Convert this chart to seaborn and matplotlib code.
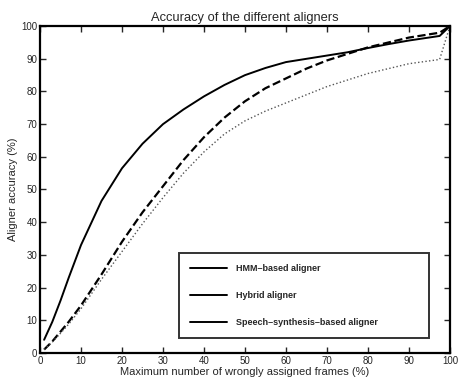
import pandas as pd
import numpy as np
import matplotlib.pyplot as plt
import seaborn as sns
from matplotlib.lines import Line2D

# ==========================================
# 1. Data
# ==========================================
frames = [1, 3, 5, 7, 10, 15, 20, 25, 30, 35, 40, 45, 50, 55, 60, 65, 70, 75, 80, 85, 90, 97.5, 100]
hmm_acc = [4, 9.5, 16, 23, 33, 46.5, 56.5, 64, 70, 74.5, 78.5, 82, 85, 87.2, 89, 90, 91, 92, 93.3, 94.5, 95.6, 97, 100]
hybrid_acc = [1, 3.5, 6.5, 9.5, 14.5, 24, 34, 43, 51, 59, 66, 72, 77, 81, 84, 87, 89.5, 91.5, 93.5, 95, 96.5, 98, 100]
synth_acc = [1, 3.3, 6, 8.8, 13.5, 22.5, 31, 39.5, 47.5, 55, 61.5, 67, 71, 74, 76.5, 79, 81.5, 83.5, 85.5, 87, 88.5, 89.8, 100]
labels = ['HMM\u2013based aligner', 'Hybrid aligner', 'Speech\u2013synthesis\u2013based aligner']

df = pd.DataFrame({
    'frames': frames * 3,
    'acc': hmm_acc + hybrid_acc + synth_acc,
    'aligner': [labels[0]] * len(frames) + [labels[1]] * len(frames) + [labels[2]] * len(frames),
})

# ==========================================
# 2. Plot (MATLAB-like look)
# ==========================================
sns.set_style('ticks')
plt.rcParams['font.family'] = ['Liberation Sans', 'DejaVu Sans']

fig = plt.figure(figsize=(4.6, 3.79), dpi=100)
ax = fig.add_axes([0.087, 0.069, 0.891, 0.862])

styles = [('-', 1.4, 'black'), ('--', 1.6, 'black'), (':', 1.0, '#555555')]
for lab, (ls, lw, col) in zip(labels, styles):
    sub = df[df['aligner'] == lab]
    sns.lineplot(data=sub, x='frames', y='acc', ax=ax, color=col,
                 linestyle=ls, linewidth=lw, legend=False)

ax.set_xlim(0, 100)
ax.set_ylim(0, 100)
ax.set_xticks(np.arange(0, 101, 10))
ax.set_yticks(np.arange(0, 101, 10))
ax.tick_params(direction='in', top=True, right=True, labelsize=7, length=4, width=1, pad=2)
for sp in ax.spines.values():
    sp.set_linewidth(1.6)
    sp.set_color('black')

ax.set_title('Accuracy of the different aligners', fontsize=9.3, pad=4)
ax.set_xlabel('Maximum number of wrongly assigned frames (%)', fontsize=8, labelpad=1)
ax.set_ylabel('Aligner accuracy (%)', fontsize=8, labelpad=2)

# legend: all entries drawn as solid lines, like the original
handles = [Line2D([0], [0], color='black', linewidth=1.4) for _ in labels]
leg = ax.legend(handles, labels, loc='lower left', mode='expand',
                bbox_to_anchor=(0.339, 0.046, 0.61, 0.272),
                prop={'weight': 'bold', 'size': 6.5}, frameon=True,
                fancybox=False, handlelength=4.1, handletextpad=1.0,
                labelspacing=2.0, borderpad=1.2, borderaxespad=0)
leg.get_frame().set_edgecolor('black')
leg.get_frame().set_linewidth(1.4)

plt.savefig('out.png', dpi=100)
